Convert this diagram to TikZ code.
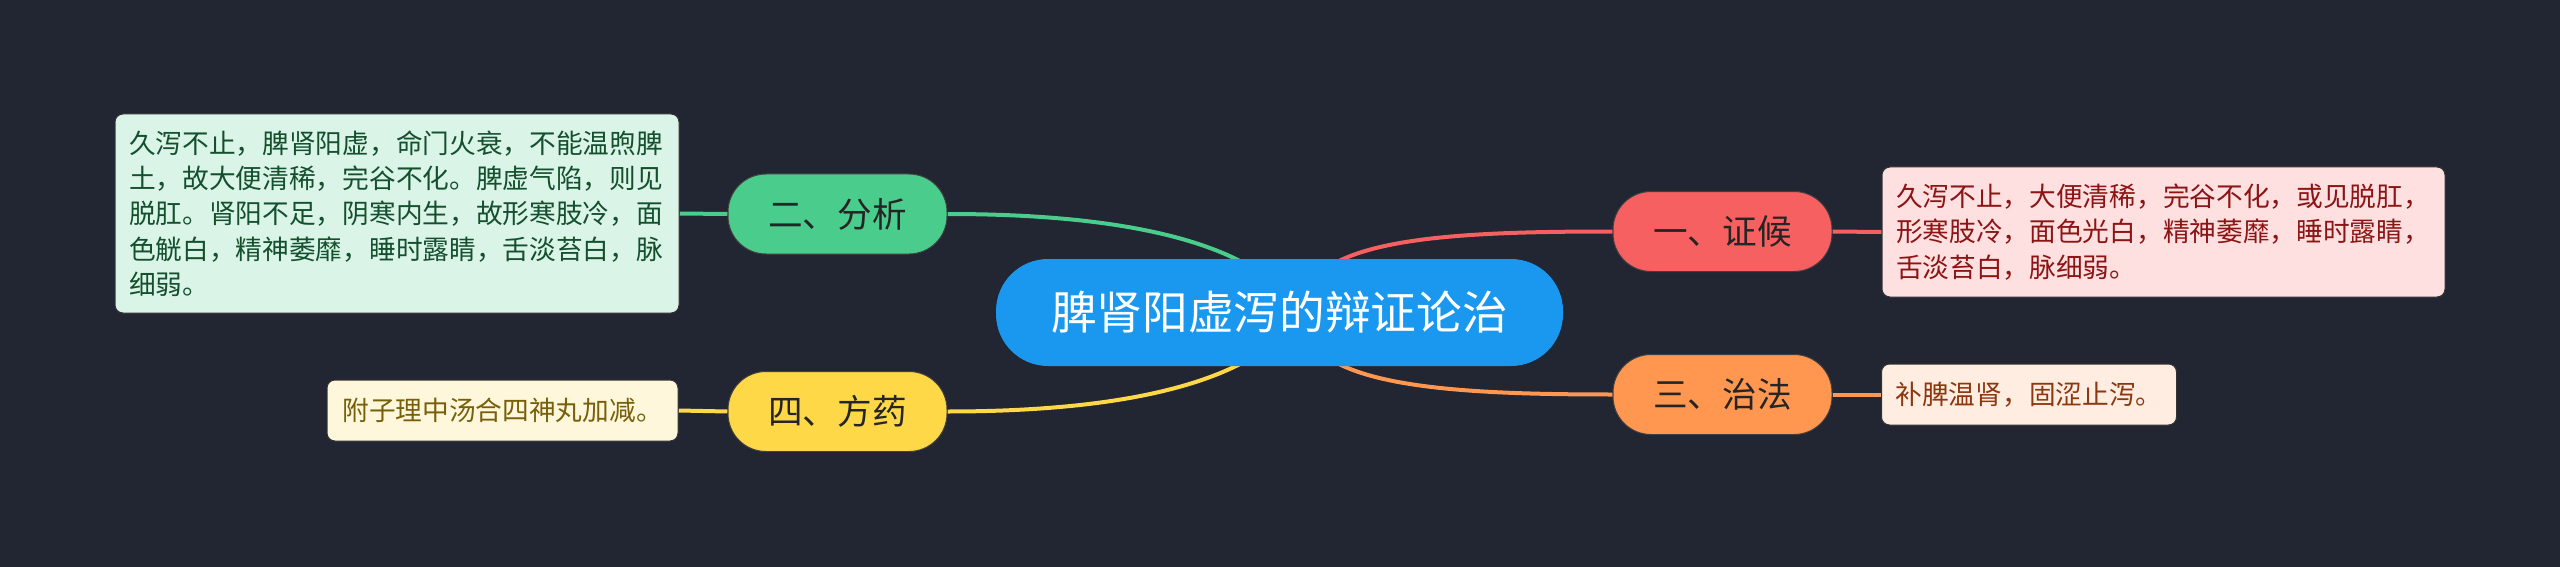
\documentclass[tikz,border=0pt]{standalone}
\usepackage{fontspec}
\setmainfont{Noto Sans CJK SC}
\definecolor{bg}{HTML}{222532}
\definecolor{croot}{HTML}{1A98F0}
\definecolor{tgreen}{HTML}{4ACC8C}
\definecolor{tred}{HTML}{F76060}
\definecolor{torange}{HTML}{FF9750}
\definecolor{tyellow}{HTML}{FFD848}
\definecolor{bgreen}{HTML}{DAF4E8}
\definecolor{bred}{HTML}{FFE0E1}
\definecolor{byellow}{HTML}{FFF7DC}
\definecolor{borange}{HTML}{FFEDE1}
\definecolor{xgreen}{HTML}{14502D}
\definecolor{xred}{HTML}{8C1414}
\definecolor{xyellow}{HTML}{785F0A}
\definecolor{xorange}{HTML}{8C370F}
\definecolor{ttext}{HTML}{252525}
\pgfdeclarelayer{bottom}
\pgfdeclarelayer{edges}
\pgfsetlayers{bottom,edges,main}
\begin{document}
\begin{tikzpicture}[x=1pt,y=-1pt,
  rootnode/.style={fill=croot, rounded corners=52pt, minimum width=567pt, minimum height=107pt,
    inner sep=0pt, text=white, font=\fontsize{45.7}{50}\selectfont},
  topic/.style={rounded corners=38pt, minimum width=219pt, minimum height=80pt, inner sep=0pt,
    draw=black!75, line width=1pt, text=ttext, font=\fontsize{34.6}{40}\selectfont},
  txtbox/.style={rounded corners=8pt, draw=black!80, line width=1pt, inner xsep=14pt, inner ysep=0pt,
    align=left, font=\fontsize{26.7}{35.3}\selectfont},
  conn/.style={line width=4pt}]
\begin{pgfonlayer}{bottom}
\fill[bg] (0,0) rectangle (2560,567);
\end{pgfonlayer}
\useasboundingbox (0,0) rectangle (2560,567);

\node[rootnode] (root) at (1279.5,312.5) {脾肾阳虚泻的辩证论治};
\node[topic, fill=tgreen] (t2) at (837.5,214) {二、分析};
\node[topic, fill=tyellow] (t4) at (837.5,411.5) {四、方药};
\node[topic, fill=tred] (t1) at (1722.5,231.5) {一、证候};
\node[topic, fill=torange] (t3) at (1722.5,394.5) {三、治法};

\node[txtbox, fill=bgreen, text=xgreen, minimum width=564pt, minimum height=199pt, text width=536pt] (b2) at (397,213.5)
{久泻不止，脾肾阳虚，命门火衰，不能温煦脾\\土，故大便清稀，完谷不化。脾虚气陷，则见\\脱肛。肾阳不足，阴寒内生，故形寒肢冷，面\\色觥白，精神萎靡，睡时露睛，舌淡苔白，脉\\细弱。};
\node[txtbox, fill=byellow, text=xyellow, minimum width=351pt, minimum height=61pt] (b4) at (502.5,410.5)
{附子理中汤合四神丸加减。};
\node[txtbox, fill=bred, text=xred, minimum width=563pt, minimum height=130pt, text width=535pt] (b1) at (2163.5,232)
{久泻不止，大便清稀，完谷不化，或见脱肛，\\形寒肢冷，面色光白，精神萎靡，睡时露睛，\\舌淡苔白，脉细弱。};
\node[txtbox, fill=borange, text=xorange, minimum width=294pt, minimum height=61pt] (b3) at (2029,394.5)
{补脾温肾，固涩止泻。};

\coordinate (eg) at (1256,270);
\coordinate (ey) at (1256,355);
\coordinate (er) at (1324,270);
\coordinate (eo) at (1324,355);

\begin{pgfonlayer}{edges}
\draw[conn, tgreen] (t2.east) .. controls (1090,214) and (1195,232) .. (eg);
\draw[conn, tyellow] (t4.east) .. controls (1090,411.5) and (1195,393) .. (ey);
\draw[conn, tred] (t1.west) .. controls (1480,231.5) and (1370,236) .. (er);
\draw[conn, torange] (t3.west) .. controls (1480,394.5) and (1370,389) .. (eo);
\draw[conn, tgreen] (b2.east) -- (t2.west);
\draw[conn, tyellow] (b4.east) -- (t4.west);
\draw[conn, tred] (t1.east) -- (b1.west);
\draw[conn, torange] (t3.east) -- (b3.west);
\end{pgfonlayer}
\end{tikzpicture}
\end{document}
